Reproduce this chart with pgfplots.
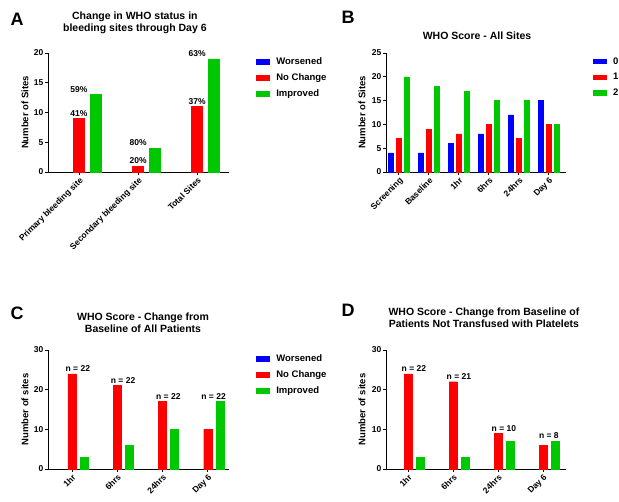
\documentclass[border=0pt]{standalone}
\usepackage{fontspec}
\setmainfont{Liberation Sans}
\usepackage{pgfplots}
\pgfplotsset{compat=1.18}
\definecolor{wblue}{RGB}{0,0,255}
\definecolor{wred}{RGB}{255,0,0}
\definecolor{wgreen}{RGB}{0,200,0}
\newcommand\ftitle{\bfseries\fontsize{10.5}{12.5}\selectfont}
\newcommand\ftick{\bfseries\fontsize{8.5}{9}\selectfont}
\newcommand\fxtick{\bfseries\fontsize{8.5}{10}\selectfont}
\newcommand\flab{\bfseries\fontsize{9.5}{10}\selectfont}
\newcommand\fleg{\bfseries\fontsize{9.5}{10}\selectfont}
\newcommand\fpct{\bfseries\fontsize{8.5}{10}\selectfont}
\newcommand\fletter{\bfseries\fontsize{18}{20}\selectfont}
\pgfplotsset{
  every axis title/.style={at={(0.5,1)}, anchor=center, align=center, font=\ftitle},
  panel/.style={
    scale only axis, height=119pt,
    axis lines=left, axis line style={-, line width=0.9pt, black},
    tick align=outside, major tick length=3pt,
    tick style={line width=0.9pt, black},
    ymin=0, clip=false, enlargelimits=false,
    /pgf/number format/assume math mode=true,
    yticklabel style={font=\ftick, inner sep=1.5pt},
    xticklabel style={font=\fxtick, rotate=45, anchor=north east, inner sep=1pt},
    legend style={draw=none, fill=none, font=\fleg, row sep=3.6pt,
      anchor=north west, inner sep=0pt},
    legend cell align=left,
    ylabel style={font=\flab, anchor=center},
  },
  sq/.style={legend image code/.code={\path[draw=none] (0pt,0pt) -- (18pt,0pt);
      \fill[#1, draw=none] (0pt,-2.8pt) rectangle (13.5pt,2.8pt);}},
}
\begin{document}
\begin{tikzpicture}
\path[use as bounding box] (0,0) rectangle (619pt,502pt);

% ---------------- A ----------------
\begin{axis}[panel, at={(48pt,330pt)}, anchor=south west, width=181pt,
  xmin=-0.525, xmax=2.54, ymax=20, ytick={0,5,10,15,20},
  xtick={0,1,2}, xticklabels={Primary bleeding site,Secondary bleeding site,Total Sites},
  ylabel={Number of Sites},
  ylabel style={at={(axis description cs:-0.127,0.5)}},
  title={Change in WHO status in\\bleeding sites through Day 6},
  title style={at={(axis description cs:0.48,1.253)}},
  legend style={at={(axis description cs:1.15,0.98)}}]
\addlegendimage{sq=wblue}\addlegendentry{Worsened}
\addlegendimage{sq=wred}\addlegendentry{No Change}
\addlegendimage{sq=wgreen}\addlegendentry{Improved}
\addplot[ybar, bar width=0.186, bar shift=0, fill=wred, draw=wred, forget plot,
  nodes near coords, point meta=explicit symbolic,
  nodes near coords style={font=\fpct, inner sep=2pt}]
  coordinates {(0,9) [41\%] (1,1) [20\%] (2,11) [37\%]};
\addplot[ybar, bar width=0.186, bar shift=0.28, fill=wgreen, draw=wgreen, forget plot,
  nodes near coords, point meta=explicit symbolic,
  nodes near coords style={font=\fpct, inner sep=2pt}]
  coordinates {(0,13) [59\%] (1,4) [80\%] (2,19) [63\%]};
\node[font=\fletter] at (rel axis cs:-0.171,1.286) {A};
\end{axis}

% ---------------- B ----------------
\begin{axis}[panel, at={(386pt,330pt)}, anchor=south west, width=180pt,
  xmin=-0.43, xmax=5.57, ymax=25, ytick={0,5,10,15,20,25},
  xtick={0,1,2,3,4,5}, xticklabels={Screening,Baseline,1hr,6hrs,24hrs,Day 6},
  ylabel={Number of Sites},
  ylabel style={at={(axis description cs:-0.133,0.5)}},
  title={WHO Score - All Sites},
  title style={at={(axis description cs:0.506,1.145)}},
  legend style={at={(axis description cs:1.15,0.98)}}]
\addlegendimage{sq=wblue}\addlegendentry{0}
\addlegendimage{sq=wred}\addlegendentry{1}
\addlegendimage{sq=wgreen}\addlegendentry{2}
\addplot[ybar, bar width=0.183, bar shift=-0.267, fill=wblue, draw=wblue, forget plot]
  coordinates {(0,4) (1,4) (2,6) (3,8) (4,12) (5,15)};
\addplot[ybar, bar width=0.183, bar shift=0, fill=wred, draw=wred, forget plot]
  coordinates {(0,7) (1,9) (2,8) (3,10) (4,7) (5,10)};
\addplot[ybar, bar width=0.183, bar shift=0.267, fill=wgreen, draw=wgreen, forget plot]
  coordinates {(0,20) (1,18) (2,17) (3,15) (4,15) (5,10)};
\node[font=\fletter] at (rel axis cs:-0.211,1.303) {B};
\end{axis}

% ---------------- C ----------------
\begin{axis}[panel, at={(48pt,33pt)}, anchor=south west, width=181pt,
  xmin=-0.53, xmax=3.47, ymax=30, ytick={0,10,20,30},
  xtick={0,1,2,3}, xticklabels={1hr,6hrs,24hrs,Day 6},
  ylabel={Number of sites},
  ylabel style={at={(axis description cs:-0.127,0.5)}},
  title={WHO Score - Change from\\Baseline of All Patients},
  title style={at={(axis description cs:0.525,1.231)}},
  legend style={at={(axis description cs:1.15,0.98)}}]
\addlegendimage{sq=wblue}\addlegendentry{Worsened}
\addlegendimage{sq=wred}\addlegendentry{No Change}
\addlegendimage{sq=wgreen}\addlegendentry{Improved}
\addplot[ybar, bar width=0.178, bar shift=0, fill=wred, draw=wred, forget plot]
  coordinates {(0,24) (1,21) (2,17) (3,10)};
\addplot[ybar, bar width=0.178, bar shift=0.267, fill=wgreen, draw=wgreen, forget plot]
  coordinates {(0,3) (1,6) (2,10) (3,17)};
\addplot[draw=none, mark=none, forget plot, nodes near coords, point meta=explicit symbolic,
  nodes near coords style={font=\fpct, anchor=south, inner sep=2pt}]
  coordinates {(0.13,24) [n = 22] (1.13,21) [n = 22] (2.13,17) [n = 22] (3.13,17) [n = 22]};
\node[font=\fletter] at (rel axis cs:-0.171,1.311) {C};
\end{axis}

% ---------------- D ----------------
\begin{axis}[panel, at={(386pt,33pt)}, anchor=south west, width=180pt,
  xmin=-0.49, xmax=3.51, ymax=30, ytick={0,10,20,30},
  xtick={0,1,2,3}, xticklabels={1hr,6hrs,24hrs,Day 6},
  ylabel={Number of sites},
  ylabel style={at={(axis description cs:-0.133,0.5)}},
  title={WHO Score - Change from Baseline of\\Patients Not Transfused with Platelets},
  title style={at={(axis description cs:0.544,1.272)}}]
\addplot[ybar, bar width=0.178, bar shift=0, fill=wred, draw=wred, forget plot]
  coordinates {(0,24) (1,22) (2,9) (3,6)};
\addplot[ybar, bar width=0.178, bar shift=0.267, fill=wgreen, draw=wgreen, forget plot]
  coordinates {(0,3) (1,3) (2,7) (3,7)};
\addplot[draw=none, mark=none, forget plot, nodes near coords, point meta=explicit symbolic,
  nodes near coords style={font=\fpct, anchor=south, inner sep=2pt}]
  coordinates {(0.13,24) [n = 22] (1.13,22) [n = 21] (2.13,9) [n = 10] (3.13,7) [n = 8]};
\node[font=\fletter] at (rel axis cs:-0.211,1.336) {D};
\end{axis}
\end{tikzpicture}
\end{document}
